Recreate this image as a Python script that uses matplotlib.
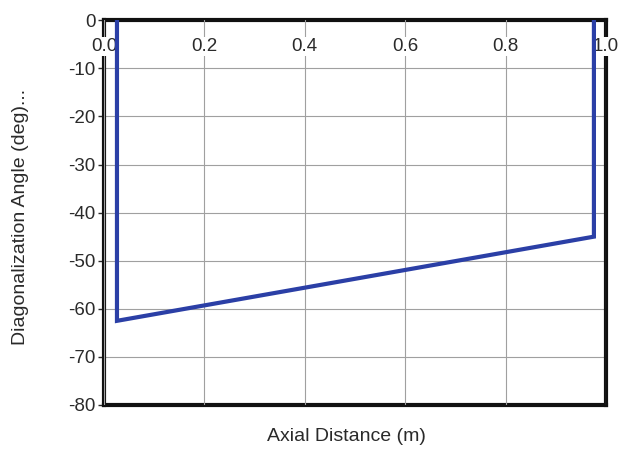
import matplotlib.pyplot as plt

plt.rcParams['font.family'] = ['Liberation Sans', 'DejaVu Sans']
plt.rcParams['axes.unicode_minus'] = False

# Data
axial_distance = [0.026, 0.026, 0.976, 0.976]
diag_angle = [0.5, -62.5, -45.0, 0.5]

x_ticks = [0.0, 0.2, 0.4, 0.6, 0.8, 1.0]
y_ticks = [0, -10, -20, -30, -40, -50, -60, -70, -80]

fig = plt.figure(figsize=(6.26, 4.49), dpi=100)
ax = fig.add_axes([0.166, 0.098, 0.802, 0.857])

ax.plot(axial_distance, diag_angle, color='#2b3fa6', linewidth=3.0, zorder=4,
        solid_joinstyle='miter')

ax.set_xlim(0, 1)
ax.set_ylim(-80, 0)
ax.set_xticks(x_ticks)
ax.set_xticklabels([f"{t:.1f}" for t in x_ticks])
ax.set_yticks(y_ticks)

# x tick labels sit inside the box just under the top edge
ax.xaxis.set_ticks_position('top')
ax.tick_params(axis='x', length=0, pad=-25, labelsize=13.5, colors='#2a2a2a')
ax.tick_params(axis='y', length=4, width=1, labelsize=13.5, colors='#2a2a2a', pad=2)
for lbl in ax.get_xticklabels():
    lbl.set_bbox(dict(facecolor='white', edgecolor='none', pad=1))
ax.xaxis.set_zorder(3)

ax.grid(True, color='#a0a0a0', linewidth=0.8)
for sp in ax.spines.values():
    sp.set_linewidth(3)
    sp.set_color('#111111')

ax.set_ylabel('Diagonalization Angle (deg)...', fontsize=14, color='#2a2a2a')
ax.yaxis.set_label_coords(-0.149, 0.49)
fig.text(0.554, 0.027, 'Axial Distance (m)', fontsize=14, color='#2a2a2a',
         ha='center', va='center')

fig.savefig('out.png', dpi=100)
